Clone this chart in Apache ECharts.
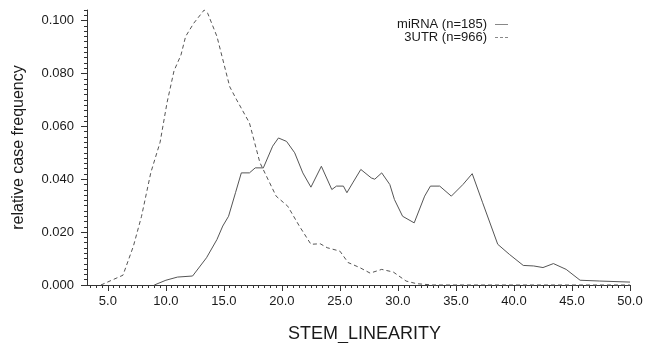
<!DOCTYPE html>
<html>
<head>
<meta charset="utf-8">
<script src="https://cdn.jsdelivr.net/npm/echarts@6/dist/echarts.min.js"></script>
<style>
html,body{margin:0;padding:0;background:#fff;}
#chart{width:647px;height:343px;}
</style>
</head>
<body>
<div id="chart"></div>
<script>
// ---- data ----
const miRNA_x = [9.0, 10.0, 11.0, 12.3, 13.5, 14.4, 14.9, 15.4, 16.0, 16.5, 17.2, 17.7, 18.4, 19.2, 19.7, 20.4, 21.1, 21.8, 22.5, 23.4, 24.3, 24.7, 25.3, 25.6, 26.1, 26.8, 27.7, 28.0, 28.6, 29.3, 29.7, 30.4, 31.4, 32.3, 32.8, 33.6, 34.6, 35.6, 36.4, 37.3, 38.6, 39.6, 40.8, 41.7, 42.5, 43.4, 44.5, 45.7, 47.4, 50.0];
const miRNA_y = [0, 0.0018, 0.0030, 0.0034, 0.0103, 0.0172, 0.0223, 0.0260, 0.0349, 0.0424, 0.0424, 0.0443, 0.0443, 0.0525, 0.0556, 0.0543, 0.0500, 0.0424, 0.0370, 0.0449, 0.0361, 0.0374, 0.0374, 0.0349, 0.0386, 0.0437, 0.0405, 0.0400, 0.0424, 0.0380, 0.0323, 0.0260, 0.0235, 0.0336, 0.0374, 0.0374, 0.0336, 0.0380, 0.0421, 0.0311, 0.0154, 0.0116, 0.0074, 0.0072, 0.0066, 0.0081, 0.0059, 0.0018, 0.0015, 0.0011];
const utr_x = [4.4, 6.3, 7.2, 7.9, 8.7, 9.5, 10.1, 10.7, 11.3, 11.7, 12.4, 13.3, 13.6, 14.4, 15.5, 16.1, 17.2, 18.1, 19.5, 20.5, 21.5, 22.5, 23.3, 23.9, 25.0, 25.7, 26.7, 27.6, 28.6, 29.6, 30.7, 31.6, 33.0, 50.0];
const utr_y = [0, 0.0037, 0.0147, 0.0260, 0.0425, 0.0540, 0.0690, 0.0810, 0.0870, 0.0940, 0.0990, 0.1040, 0.1028, 0.0940, 0.0750, 0.0700, 0.0613, 0.0463, 0.0336, 0.0298, 0.0223, 0.0154, 0.0156, 0.0141, 0.0128, 0.0085, 0.0066, 0.0045, 0.0059, 0.0049, 0.0015, 0.0005, 0, 0];
const seriesNames = ['miRNA (n=185)', '3UTR (n=966)'];
const xTickLabels = [5, 10, 15, 20, 25, 30, 35, 40, 45, 50];
const yTickLabels = [0, 0.02, 0.04, 0.06, 0.08, 0.10];
const xTitle = 'STEM_LINEARITY';
const yTitle = 'relative case frequency';

// minor tick positions (every 0.5 on x, 0.002 on y)
const xMinor = [];
for (let i = 7; i <= 100; i++) xMinor.push(i * 0.5);
const yMinor = [];
for (let i = 0; i <= 52; i++) yMinor.push(+(i * 0.002).toFixed(3));

const font = 'Liberation Sans, Arial, Helvetica, sans-serif';
const ink = '#1a1a1a';
const axisColor = '#333';
const lineColor = '#555';
const legendColor = '#888';

const solidIcon = 'path://M0,0h13v1h-13z';
const dashIcon = 'path://M0,0h3v1h-3z M5,0h3v1h-3z M10,0h3v1h-3z';

const chart = echarts.init(document.getElementById('chart'), null, {renderer: 'canvas'});
const X_MIN = 3.2, X_MAX = 50, Y_MIN = 0, Y_MAX = 0.104;

chart.setOption({
  animation: false,
  backgroundColor: '#fff',
  textStyle: {fontFamily: font, color: ink},
  grid: {left: 87, right: 17, top: 10, bottom: 58, containLabel: false, outerBoundsMode: 'none'},
  legend: {
    orient: 'vertical',
    align: 'right',
    right: 139,
    top: 18,
    padding: 0,
    itemWidth: 13,
    itemHeight: 1,
    itemGap: 0,
    data: [
      {name: seriesNames[0], icon: solidIcon, itemStyle: {color: legendColor}},
      {name: seriesNames[1], icon: dashIcon, itemStyle: {color: legendColor}}
    ],
    textStyle: {fontFamily: font, fontSize: 13, color: ink, padding: [0, 3, 0, 0]}
  },
  xAxis: [{
    type: 'value', min: X_MIN, max: X_MAX,
    name: xTitle, nameLocation: 'middle', nameGap: 40,
    nameTextStyle: {fontFamily: font, fontSize: 18, color: ink, padding: [0, 0, 0, 12]},
    axisLine: {show: true, onZero: false, lineStyle: {color: axisColor, width: 1}},
    axisTick: {show: true, customValues: xTickLabels, length: 6, lineStyle: {color: axisColor}},
    axisLabel: {customValues: xTickLabels, formatter: v => v.toFixed(1), margin: 10, fontFamily: font, fontSize: 13, color: ink},
    splitLine: {show: false}
  }, {
    type: 'value', min: X_MIN, max: X_MAX, position: 'bottom',
    axisLine: {show: false, onZero: false},
    axisTick: {show: true, customValues: xMinor, length: 3, lineStyle: {color: axisColor}},
    axisLabel: {show: false},
    splitLine: {show: false}
  }],
  yAxis: [{
    type: 'value', min: Y_MIN, max: Y_MAX,
    name: yTitle, nameLocation: 'middle', nameGap: 60, nameRotate: 90,
    nameTextStyle: {fontFamily: font, fontSize: 16, color: ink},
    axisLine: {show: true, onZero: false, lineStyle: {color: axisColor, width: 1}},
    axisTick: {show: true, customValues: yTickLabels, length: 6, lineStyle: {color: axisColor}},
    axisLabel: {customValues: yTickLabels, formatter: v => v.toFixed(3), margin: 13, fontFamily: font, fontSize: 13, color: ink},
    splitLine: {show: false}
  }, {
    type: 'value', min: Y_MIN, max: Y_MAX, position: 'left',
    axisLine: {show: false, onZero: false},
    axisTick: {show: true, customValues: yMinor, length: 3, lineStyle: {color: axisColor}},
    axisLabel: {show: false},
    splitLine: {show: false}
  }],
  series: [{
    name: seriesNames[0], type: 'line', xAxisIndex: 0, yAxisIndex: 0,
    showSymbol: false, symbol: 'none', clip: false,
    lineStyle: {color: lineColor, width: 1, type: 'solid'},
    itemStyle: {color: lineColor},
    data: miRNA_x.map((x, i) => [x, miRNA_y[i]])
  }, {
    name: seriesNames[1], type: 'line', xAxisIndex: 0, yAxisIndex: 0,
    showSymbol: false, symbol: 'none', clip: false,
    lineStyle: {color: lineColor, width: 1, type: [4, 3]},
    itemStyle: {color: lineColor},
    data: utr_x.map((x, i) => [x, utr_y[i]])
  }]
});
</script>
</body>
</html>
